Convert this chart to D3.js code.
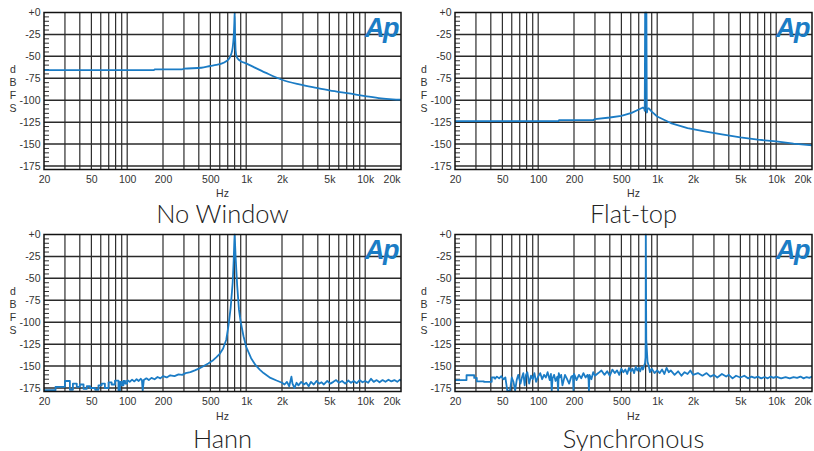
<!DOCTYPE html>
<html><head><meta charset="utf-8">
<script src="https://cdn.jsdelivr.net/npm/d3@7"></script>
<style>body{margin:0;background:#fff}</style>
</head><body>
<svg id="c" width="814" height="451"></svg>
<script>
// ---------- axes / labels ----------
const xTicks = [20, 50, 100, 200, 500, 1000, 2000, 5000, 10000, 20000];
const xTickLabels = ["20", "50", "100", "200", "500", "1k", "2k", "5k", "10k", "20k"];
const xGrid = [30, 40, 50, 60, 70, 80, 90, 100, 200, 300, 400, 500, 600, 700, 800, 900,
               1000, 2000, 3000, 4000, 5000, 6000, 7000, 8000, 9000, 10000];
const yTicks = [0, -25, -50, -75, -100, -125, -150, -175];
const yTickLabels = ["+0", "-25", "-50", "-75", "-100", "-125", "-150", "-175"];
const yMinorTicks = [-5,-10,-15,-20,-30,-35,-40,-45,-55,-60,-65,-70,-80,-85,-90,-95,
                     -105,-110,-115,-120,-130,-135,-140,-145,-155,-160,-165,-170];
const titles = ["No Window", "Flat-top", "Hann", "Synchronous"];
const yLabelLetters = ["d", "B", "F", "S"];
const xAxisTitle = "Hz";

// ---------- series ----------
const noWinFreq = [20, 100, 168, 170, 290, 300, 420, 500, 560, 620, 680, 720, 750, 770, 785, 795, 800,
                   806, 815, 830, 860, 900, 1000, 1150, 1450, 2000, 2800, 3900, 5000, 7600, 10000, 13600, 17000, 20000];
const noWinDb   = [-65.6, -65.6, -65.6, -64.9, -64.9, -64.1, -63, -61, -59.8, -58.3, -55.5, -52.5, -47, -40, -28, -12, 0,
                   -22, -43, -50, -53.5, -55.5, -58, -62, -68.5, -76.7, -82, -86, -88.8, -92.6, -95.3, -98, -99, -99.4];

const flatFreq = [20, 148, 150, 290, 300, 400, 500, 610, 700, 760, 780, 786, 789, 792, 812, 815, 818, 822, 826,
                  850, 900, 1000, 1300, 1800, 2500, 3500, 5000, 7000, 10000, 14000, 20000];
const flatDb   = [-123.9, -123.9, -122.7, -122.7, -121.6, -119.7, -117.8, -114.4, -110.6, -108.3, -110, -112, -60, 0, 0, -60, -114, -113.6, -110,
                  -109.2, -113, -118.6, -126, -131.7, -135.5, -139, -142.4, -145, -147, -149.6, -151.5];

// Hann: low-frequency bins (stepped) and the rest
const hannLowFreq = [20, 25, 30, 33, 35, 37.7, 40, 43, 45.8, 48.8, 53.8, 57.4, 61, 65, 69.7, 74, 79, 84.5, 87, 90, 93, 96, 100];
const hannLowDb   = [-177.5, -173.7, -167, -177, -170, -173.7, -171, -176, -173, -175, -177, -172, -170, -175, -168.5, -171, -166.5, -178, -168, -172, -167, -170, -166];
const hannFreq = [100, 105, 110, 115, 120, 125, 130, 133, 135, 138, 145, 152, 160, 170, 180, 190, 200, 215, 230, 250, 270, 290,
                  310, 340, 370, 400, 440, 480, 520, 560, 600, 640, 680, 710, 740, 770, 785, 795, 800, 805, 815, 840, 870,
                  900, 950, 1000, 1100, 1200, 1300, 1400, 1600, 1800, 2000, 2100, 2200, 2300, 2400, 2450, 2550, 2650, 2750,
                  2900, 3050, 3200, 3350, 3500, 3700, 3900, 4100, 4300, 4500, 4800, 5100, 5400, 5700, 6000, 6400, 6800,
                  7200, 7600, 8000, 8500, 9000, 9500, 10000, 10600, 11200, 11800, 12500, 13200, 14000, 14800, 15700,
                  16600, 17600, 18600, 19600, 20000];
const hannDb   = [-166, -168, -165.5, -167.5, -165, -167, -164.5, -166, -178, -166, -164, -166, -163.5, -165, -162.5, -164, -161.5, -163, -160.5, -161.5, -159.5, -160,
                  -158, -157, -155, -153, -150, -147, -144, -140, -136, -130, -120, -104, -84, -55, -30, -8, 0, -8, -25, -58, -86,
                  -100, -116, -128, -141, -149, -154, -158, -163.5, -166.5, -169, -171, -168, -173, -162, -170, -175, -169, -172,
                  -168, -171, -169, -173, -168, -171, -167, -170, -168.5, -171, -167, -170, -168, -166, -169, -167, -170,
                  -166.5, -169, -167, -169.5, -166, -168.5, -167, -169, -164.5, -168, -166, -168.5, -166, -168, -165.5,
                  -167.5, -166, -168, -165.5, -167];

// Synchronous: low-frequency bins (stepped) and the rest
const syncLowFreq = [20, 25, 29, 30.5, 35, 40.7, 43];
const syncLowDb   = [-166, -160.5, -163.5, -167.5, -168, -163, -165];
const syncFreq = [43, 45, 47, 49, 51, 53, 55, 58, 60, 62, 64, 66, 68, 71, 73, 75, 77, 79, 81, 84, 87, 90,
                  93, 96, 100, 104, 108, 112, 116, 120, 125, 128, 130, 132, 136, 140, 145, 147, 149, 152, 156, 160, 168, 175, 182, 190,
                  196, 198, 200, 205, 210, 220, 230, 240, 250, 260, 265, 267, 270, 280, 290, 300, 320, 340, 360, 380, 400, 420, 440, 460,
                  480, 500, 520, 540, 560, 580, 600, 620, 640, 660, 680, 700, 720, 740, 760, 780, 790, 798, 800, 802, 810,
                  830, 850, 870, 900, 950, 1000, 1050, 1100, 1150, 1200, 1250, 1300, 1400, 1500, 1600, 1700, 1800, 1900, 2000,
                  2200, 2400, 2600, 2800, 3000, 3200, 3500, 3800, 4000, 4300, 4600, 5000, 5400, 5800, 6200, 6600, 7000, 7500,
                  8000, 8500, 9000, 9500, 10000, 11000, 12000, 13000, 14000, 15000, 16000, 17000, 18000, 19000, 20000];
const syncDb   = [-165, -162, -164, -161.5, -165, -163, -178, -178, -163, -168, -178, -166, -160, -170, -163, -158, -172, -160, -157, -170, -161, -165,
                  -158, -168, -162, -158, -165, -160, -163, -157, -166, -159, -178, -164, -160, -167, -162, -178, -158, -163, -160, -172, -160, -165, -170, -162,
                  -161, -178, -159, -162, -166, -160, -164, -158, -163, -160, -165, -178, -160, -165, -157, -161, -158, -155, -160, -156, -161, -154, -158, -155, -160,
                  -153, -157, -154, -159, -152, -156, -153, -158, -151, -155, -152, -156, -151, -154, -149, -147, -140, -120, 0, -120, -145,
                  -150, -157, -153, -158, -155, -158, -154, -159, -152, -157, -155, -160, -156, -161, -157, -159, -155, -160, -158,
                  -161, -158, -162, -160, -163, -159, -162, -160, -164, -161, -163, -161, -164, -162, -163.5, -162, -164, -162.5,
                  -164, -162, -163.5, -162, -164, -162.5, -164, -162.5, -163.5, -162, -164, -162.5, -163.5, -162, -164];

const series = [
  [{freq: noWinFreq, db: noWinDb, curve: d3.curveMonotoneX}],
  [{freq: flatFreq, db: flatDb, curve: d3.curveLinear}],
  [{freq: hannLowFreq, db: hannLowDb, curve: d3.curveStepAfter}, {freq: hannFreq, db: hannDb, curve: d3.curveLinear}],
  [{freq: syncLowFreq, db: syncLowDb, curve: d3.curveStepAfter}, {freq: syncFreq, db: syncDb, curve: d3.curveLinear}]
];

// ---------- layout ----------
const W = 357, H = 157;
const origins = [[44, 12.5], [455, 12.5], [44, 234.5], [455, 234.5]];
const lineColor = "#1b7cc5";
const textColor = "#333";
const tickFont = "Liberation Sans, Arial, sans-serif";

const svg = d3.select("#c");
const x = d3.scaleLog().domain([20, 20000]).range([0, W]);
const y = d3.scaleLinear().domain([-179, 0]).range([H, 0]);

origins.forEach(([ox, oy], i) => {
  const g = svg.append("g").attr("transform", `translate(${ox},${oy})`);
  g.append("clipPath").attr("id", "clip" + i)
    .append("rect").attr("x", 0).attr("y", -1).attr("width", W).attr("height", H + 1);

  // vertical grid
  g.selectAll(".vg").data(xGrid).enter().append("line")
    .attr("x1", d => x(d)).attr("x2", d => x(d)).attr("y1", 0).attr("y2", H)
    .attr("stroke", "#1a1a1a").attr("stroke-width", 1.1);
  // horizontal grid
  g.selectAll(".hg").data(yTicks.slice(1)).enter().append("line")
    .attr("x1", 0).attr("x2", W).attr("y1", d => y(d)).attr("y2", d => y(d))
    .attr("stroke", "#2a2a2a").attr("stroke-width", 1.5);
  // minor ticks
  g.selectAll(".mt").data(yMinorTicks).enter().append("line")
    .attr("x1", 0).attr("x2", 5).attr("y1", d => y(d)).attr("y2", d => y(d))
    .attr("stroke", "#333").attr("stroke-width", 1);

  // trace(s)
  series[i].forEach(s => {
    const pts = s.freq.map((f, k) => [f, s.db[k]]);
    g.append("path").datum(pts)
      .attr("clip-path", `url(#clip${i})`)
      .attr("fill", "none").attr("stroke", lineColor).attr("stroke-width", 1.8)
      .attr("stroke-linejoin", "round")
      .attr("d", d3.line().x(d => x(d[0])).y(d => y(d[1])).curve(s.curve));
  });

  // border
  g.append("rect").attr("x", 0).attr("y", 0).attr("width", W).attr("height", H)
    .attr("fill", "none").attr("stroke", "#111").attr("stroke-width", 1.5);

  // Ap logo
  g.append("text").attr("x", W - 3).attr("y", 24.5)
    .attr("text-anchor", "end").attr("font-family", "Liberation Sans, Arial, sans-serif")
    .attr("font-style", "italic").attr("font-weight", "bold").attr("font-size", 27)
    .attr("letter-spacing", -1.5).attr("fill", lineColor).text("Ap");

  // x axis labels
  const xa = g.append("g").attr("transform", `translate(0,${H})`)
    .call(d3.axisBottom(x).tickValues(xTicks).tickFormat((d, k) => xTickLabels[k]).tickSize(0).tickPadding(6.5));
  xa.select(".domain").remove();
  xa.selectAll("text").attr("font-family", tickFont).attr("font-size", 10.5).attr("fill", textColor);
  xa.selectAll(".tick").filter(d => d === 20000).select("text").attr("text-anchor", "end").attr("x", -1);

  // y axis labels
  const ya = g.append("g")
    .call(d3.axisLeft(y).tickValues(yTicks).tickFormat((d, k) => yTickLabels[k]).tickSize(0).tickPadding(3.5));
  ya.select(".domain").remove();
  ya.selectAll("text").attr("font-family", tickFont).attr("font-size", 10.5).attr("fill", textColor);

  // dBFS stacked
  g.selectAll(".yl").data(yLabelLetters).enter().append("text")
    .attr("x", -31).attr("y", (d, k) => 60.5 + k * 13)
    .attr("text-anchor", "middle").attr("font-family", tickFont).attr("font-size", 10.5)
    .attr("fill", textColor).text(d => d);

  // Hz
  g.append("text").attr("x", W / 2).attr("y", H + 27.5 + (i >= 2 ? 1 : 0))
    .attr("text-anchor", "middle").attr("font-family", tickFont).attr("font-size", 10.5)
    .attr("fill", textColor).text(xAxisTitle);

  // title
  g.append("text").attr("x", W / 2).attr("y", H + 53 + (i >= 2 ? 3 : 0))
    .attr("text-anchor", "middle").attr("font-family", "Lato, 'Open Sans', sans-serif")
    .attr("font-weight", 300).attr("font-size", 25.5)
    .attr("fill", "#222").text(titles[i]);
});
</script>
</body></html>
